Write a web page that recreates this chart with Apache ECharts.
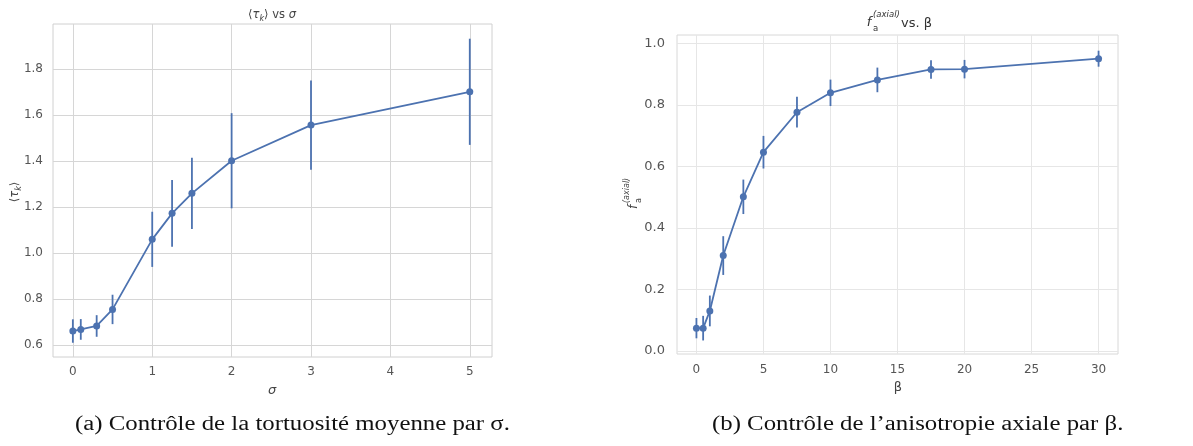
<!DOCTYPE html>
<html>
<head>
<meta charset="utf-8">
<script src="https://cdn.jsdelivr.net/npm/echarts@6/dist/echarts.min.js"></script>
<style>
html,body{margin:0;padding:0;background:#fff;}
#c{width:1193px;height:446px;}
</style>
</head>
<body>
<div id="c"></div>
<script>
// ---- data ----
const sigma    = [0, 0.1, 0.3, 0.5, 1, 1.25, 1.5, 2, 3, 5];
const tauMean  = [0.661, 0.668, 0.683, 0.755, 1.06, 1.173, 1.26, 1.402, 1.557, 1.702];
const tauErr   = [0.051, 0.045, 0.047, 0.064, 0.12, 0.145, 0.155, 0.207, 0.194, 0.231];

const beta     = [0, 0.5, 1, 2, 3.5, 5, 7.5, 10, 13.5, 17.5, 20, 30];
const faMean   = [0.074, 0.074, 0.13, 0.31, 0.501, 0.646, 0.776, 0.839, 0.881, 0.915, 0.916, 0.95];
const faErr    = [0.033, 0.04, 0.05, 0.063, 0.056, 0.053, 0.05, 0.043, 0.04, 0.03, 0.03, 0.026];

const leftXTicks  = [0, 1, 2, 3, 4, 5];
const leftYTicks  = [0.6, 0.8, 1.0, 1.2, 1.4, 1.6, 1.8];
const rightXTicks = [0, 5, 10, 15, 20, 25, 30];
const rightYTicks = [0.0, 0.2, 0.4, 0.6, 0.8, 1.0];

const captionA = '(a) Contrôle de la tortuosité moyenne par σ.';
const captionB = '(b) Contrôle de l’anisotropie axiale par β.';

// ---- chart ----
const COLOR = '#4c72b0';
const chart = echarts.init(document.getElementById('c'));

function pairs(xs, ys){ return xs.map((x,i)=>[x, ys[i]]); }
function errData(xs, ys, es){ return xs.map((x,i)=>[x, ys[i]-es[i], ys[i]+es[i]]); }

function errSeries(idx, data){
  return {
    type:'custom', xAxisIndex:idx, yAxisIndex:idx, data:data, z:3,
    renderItem:function(params, api){
      const p1 = api.coord([api.value(0), api.value(1)]);
      const p2 = api.coord([api.value(0), api.value(2)]);
      return {type:'line', shape:{x1:p1[0], y1:p1[1], x2:p2[0], y2:p2[1]},
              style:{stroke:COLOR, lineWidth:1.8}};
    }
  };
}

function xAxisCfg(idx, min, max, ticks, fs, margin){
  return {
    type:'value', gridIndex:idx, min:min, max:max,
    axisLine:{show:false}, axisTick:{show:false, customValues:ticks},
    axisLabel:{customValues:ticks, color:'#555', fontSize:fs, fontFamily:'DejaVu Sans', margin:margin,
               formatter:v=>String(v)},
    splitLine:{show:true, lineStyle:{color: idx===0 ? '#d6d6d6' : '#e6e6e6', width:1}}
  };
}
function yAxisCfg(idx, min, max, ticks, fs, margin){
  return {
    type:'value', gridIndex:idx, min:min, max:max,
    axisLine:{show:false}, axisTick:{show:false, customValues:ticks},
    axisLabel:{customValues:ticks, color:'#555', fontSize:fs, fontFamily:'DejaVu Sans', margin:margin,
               formatter:v=>v.toFixed(1)},
    splitLine:{show:true, lineStyle:{color: idx===0 ? '#d6d6d6' : '#e6e6e6', width:1}}
  };
}

const txt = (x,y,text,opt)=>Object.assign({type:'text', x:x, y:y, silent:true,
  style:Object.assign({text:text, fill:'#333', fontFamily:'DejaVu Sans', fontSize:12,
  textAlign:'center', textVerticalAlign:'middle'}, (opt&&opt.style)||{})}, (opt&&opt.el)||{});

chart.setOption({
  animation:false,
  backgroundColor:'#fff',
  grid:[
    {left:53, top:24, width:439, height:333, show:true, borderColor:'#d0d0d0', borderWidth:1, backgroundColor:'#fff'},
    {left:677, top:35, width:441, height:319, show:true, borderColor:'#d8d8d8', borderWidth:1, backgroundColor:'#fff'}
  ],
  xAxis:[
    xAxisCfg(0, -0.25, 5.28, leftXTicks, 12, 9),
    xAxisCfg(1, -1.45, 31.45, rightXTicks, 12, 10)
  ],
  yAxis:[
    yAxisCfg(0, 0.548, 1.997, leftYTicks, 12, 10),
    yAxisCfg(1, -0.01, 1.027, rightYTicks, 13, 12)
  ],
  series:[
    {type:'line', xAxisIndex:0, yAxisIndex:0, data:pairs(sigma, tauMean), symbol:'circle', symbolSize:7,
     lineStyle:{color:COLOR, width:1.8}, itemStyle:{color:COLOR}, z:4},
    errSeries(0, errData(sigma, tauMean, tauErr)),
    {type:'line', xAxisIndex:1, yAxisIndex:1, data:pairs(beta, faMean), symbol:'circle', symbolSize:7,
     lineStyle:{color:COLOR, width:1.8}, itemStyle:{color:COLOR}, z:4},
    errSeries(1, errData(beta, faMean, faErr))
  ],
  graphic:[
    // left title
    {type:'text', x:272, y:15, silent:true, style:{
      text:'{n|⟨}{i|τ}{s|k}{n|⟩ vs }{i|σ}', textAlign:'center', textVerticalAlign:'middle',
      rich:{
        n:{fontFamily:'DejaVu Sans', fontSize:11.5, fill:'#444'},
        i:{fontFamily:'DejaVu Sans', fontStyle:'italic', fontSize:11.5, fill:'#444'},
        s:{fontFamily:'DejaVu Sans', fontStyle:'italic', fontSize:8, fill:'#444', padding:[7,0,0,0]}
      }}},
    // right title
    txt(869, 23, 'f', {style:{fontStyle:'italic', fontSize:13, fill:'#333'}}),
    txt(873, 15, '(axial)', {style:{fontStyle:'italic', fontSize:8.5, textAlign:'left', fill:'#333'}}),
    txt(873, 29, 'a', {style:{fontSize:8.5, textAlign:'left', fill:'#333'}}),
    txt(901, 24, 'vs. β', {style:{fontSize:13, textAlign:'left', fill:'#333'}}),
    // x axis names
    txt(272, 391, 'σ', {style:{fontStyle:'italic', fontSize:13, fill:'#444'}}),
    txt(898, 388, 'β', {style:{fontSize:13, fill:'#444'}}),
    // left y label (rotated)
    {type:'text', x:15, y:192, rotation:Math.PI/2, silent:true, style:{
      text:'{n|⟨}{i|τ}{s|k}{n|⟩}', textAlign:'center', textVerticalAlign:'middle',
      rich:{
        n:{fontFamily:'DejaVu Sans', fontSize:11.5, fill:'#444'},
        i:{fontFamily:'DejaVu Sans', fontStyle:'italic', fontSize:11.5, fill:'#444'},
        s:{fontFamily:'DejaVu Sans', fontStyle:'italic', fontSize:8, fill:'#444', padding:[7,0,0,0]}
      }}},
    // right y label (rotated group)
    {type:'group', x:633, y:197, rotation:Math.PI/2, silent:true, children:[
      txt(-10, 1, 'f', {style:{fontStyle:'italic', fontSize:12, fill:'#444'}}),
      txt(-6, -6, '(axial)', {style:{fontStyle:'italic', fontSize:8, textAlign:'left', fill:'#444'}}),
      txt(-6, 6, 'a', {style:{fontSize:8, textAlign:'left', fill:'#444'}})
    ]},
    // captions
    {type:'text', x:75, y:425, scaleX:1.24, silent:true, style:{text:captionA,
      fontFamily:'Liberation Serif', fontSize:20, fill:'#111', textAlign:'left', textVerticalAlign:'middle'}},
    {type:'text', x:712, y:425, scaleX:1.24, silent:true, style:{text:captionB,
      fontFamily:'Liberation Serif', fontSize:20, fill:'#111', textAlign:'left', textVerticalAlign:'middle'}}
  ]
});
</script>
</body>
</html>
